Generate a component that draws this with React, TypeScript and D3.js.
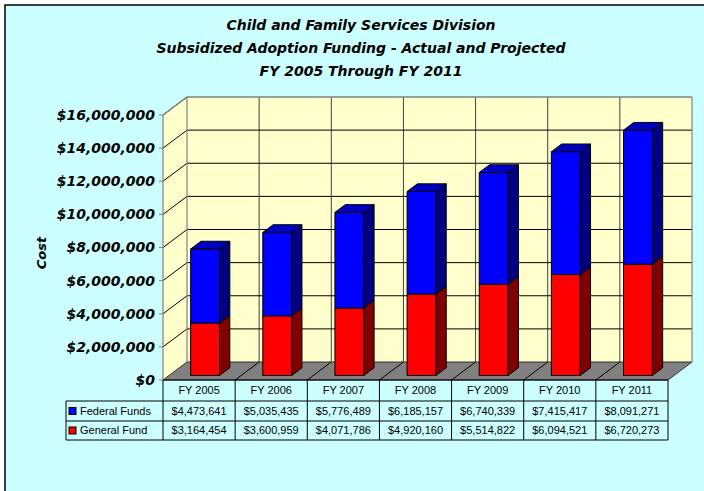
import React from "react";
import * as d3 from "d3";

const categories = ["FY 2005", "FY 2006", "FY 2007", "FY 2008", "FY 2009", "FY 2010", "FY 2011"];
const federalFunds = [4473641, 5035435, 5776489, 6185157, 6740339, 7415417, 8091271];
const generalFund = [3164454, 3600959, 4071786, 4920160, 5514822, 6094521, 6720273];
const yTicks = [0, 2000000, 4000000, 6000000, 8000000, 10000000, 12000000, 14000000, 16000000];
const titleLines = [
  "Child and Family Services Division",
  "Subsidized Adoption Funding - Actual and Projected",
  "FY 2005 Through FY 2011",
];
const seriesNames = ["Federal Funds", "General Fund"];

const W = 704;
const H = 491;
const X0 = 163;
const X1 = 668;
const YB = 380;
const YT = 115;
const DX = 24;
const DY = -18;
const F0 = 0.25;
const DEPTH = 0.43;
const BAR_FRAC = 0.4;

const comic = "'DejaVu Sans', sans-serif";
const arial = "'Liberation Sans', Arial, sans-serif";

export default function App() {
  const x = d3.scaleBand<string>().domain(categories).range([X0, X1]).padding(0);
  const y = d3.scaleLinear().domain([0, 16000000]).range([YB, YT]);
  const bw = x.bandwidth();
  const fmt = d3.format("$,");

  const bdx = DX * DEPTH;
  const bdy = DY * DEPTH;

  const box = (key: string, xl: number, w: number, yTop: number, yBot: number, front: string, side: string, top: string) => {
    const xr = xl + w;
    const pts = (a: number[][]) => a.map((p) => p.join(",")).join(" ");
    return (
      <g key={key} stroke="#000" strokeWidth={1} strokeLinejoin="round">
        <polygon points={pts([[xr, yBot], [xr + bdx, yBot + bdy], [xr + bdx, yTop + bdy], [xr, yTop]])} fill={side} />
        <polygon points={pts([[xl, yTop], [xr, yTop], [xr + bdx, yTop + bdy], [xl + bdx, yTop + bdy]])} fill={top} />
        <rect x={xl} y={yTop} width={w} height={yBot - yTop} fill={front} />
      </g>
    );
  };

  const rowTop = [380, 401, 421, 440];
  const legendLeft = 66;

  return (
    <svg width={W} height={H} style={{ position: "absolute", left: 0, top: 0 }} xmlns="http://www.w3.org/2000/svg">
      <rect x={0} y={0} width={W} height={H} fill="#fff" />
      <rect x={5} y={5} width={W + 10} height={H + 10} fill="#CCFFFF" stroke="#000" strokeWidth={1.5} />

      {/* Title */}
      <g fontFamily={comic} fontWeight="bold" fontStyle="italic" fontSize={14} textAnchor="middle" fill="#000">
        {titleLines.map((t, i) => (
          <text key={i} x={361} y={30 + i * 23}>{t}</text>
        ))}
      </g>

      {/* Walls */}
      <polygon points={`${X0},${YT} ${X0 + DX},${YT + DY} ${X0 + DX},${YB + DY} ${X0},${YB}`} fill="#FFFFCC" />
      <rect x={X0 + DX} y={YT + DY} width={X1 - X0} height={YB - YT} fill="#FFFFCC" />
      {/* floor */}
      <polygon points={`${X0},${YB} ${X1},${YB} ${X1 + DX},${YB + DY} ${X0 + DX},${YB + DY}`} fill="#808080" stroke="#333" strokeWidth={1} />

      {/* vertical gridlines on back wall */}
      {categories.slice(1).map((c) => (
        <line key={"vg" + c} x1={(x(c) as number) + DX} x2={(x(c) as number) + DX} y1={YT + DY} y2={YB + DY} stroke="#404040" strokeWidth={1} />
      ))}
      {/* floor diagonals */}
      {categories.slice(1).map((c) => (
        <line key={"fd" + c} x1={x(c) as number} x2={(x(c) as number) + DX} y1={YB} y2={YB + DY} stroke="#000" strokeWidth={1} />
      ))}
      {/* horizontal gridlines */}
      {yTicks.slice(1).map((t) => (
        <g key={"hg" + t}>
          <line x1={X0} y1={y(t)} x2={X0 + DX} y2={y(t) + DY} stroke="#000" strokeWidth={1} />
          <line x1={X0 + DX} y1={y(t) + DY} x2={X1 + DX} y2={y(t) + DY} stroke={t === 16000000 ? "#808080" : "#000"} strokeWidth={1} />
        </g>
      ))}
      {/* wall edges */}
      <g stroke="#808080" strokeWidth={1.2} fill="none">
        <line x1={X0 + DX} y1={YT + DY} x2={X0 + DX} y2={YB + DY} />
        <line x1={X0} y1={YT} x2={X0 + DX} y2={YT + DY} />
        <line x1={X0 + DX} y1={YT + DY} x2={X1 + DX} y2={YT + DY} />
        <line x1={X1 + DX} y1={YT + DY} x2={X1 + DX} y2={YB + DY} />
        <line x1={X0} y1={YT} x2={X0} y2={YB} />
      </g>
      {/* ticks */}
      {yTicks.map((t) => (
        <line key={"tk" + t} x1={X0 - 4} x2={X0} y1={y(t)} y2={y(t)} stroke="#808080" strokeWidth={1} />
      ))}

      {/* Bars */}
      {categories.map((c, i) => {
        const xl = (x(c) as number) + (bw * (1 - BAR_FRAC)) / 2 + DX * F0;
        const w = bw * BAR_FRAC;
        const off = DY * F0;
        const g = generalFund[i];
        const f = federalFunds[i];
        return (
          <g key={"bar" + c}>
            {box("r", xl, w, y(g) + off, y(0) + off, "#FF0000", "#800000", "#C00000")}
            {box("b", xl, w, y(g + f) + off, y(g) + off, "#0000FF", "#000080", "#0000C0")}
          </g>
        );
      })}

      {/* Y axis labels */}
      <g fontFamily={comic} fontWeight="bold" fontStyle="italic" fontSize={14} textAnchor="end" fill="#000">
        {yTicks.map((t) => (
          <text key={"yl" + t} x={155} y={y(t)} dy="0.35em">{fmt(t)}</text>
        ))}
      </g>
      <text
        transform="translate(46,253) rotate(-90)"
        textAnchor="middle"
        fontFamily={comic}
        fontWeight="bold"
        fontStyle="italic"
        fontSize={13}
      >
        Cost
      </text>

      {/* Data table */}
      <g stroke="#000" strokeWidth={1} fill="none">
        <line x1={X0} y1={rowTop[0]} x2={X1} y2={rowTop[0]} />
        {rowTop.slice(1).map((r) => (
          <line key={"hr" + r} x1={legendLeft} y1={r} x2={X1} y2={r} />
        ))}
        <line x1={legendLeft} y1={rowTop[1]} x2={legendLeft} y2={rowTop[3]} />
        {categories.map((c) => (
          <line key={"cl" + c} x1={x(c) as number} y1={rowTop[0]} x2={x(c) as number} y2={rowTop[3]} />
        ))}
        <line x1={X1} y1={rowTop[0]} x2={X1} y2={rowTop[3]} />
      </g>
      <g fontFamily={arial} fontSize={11} fill="#000">
        {categories.map((c) => (
          <text key={"hc" + c} x={(x(c) as number) + bw / 2} y={(rowTop[0] + rowTop[1]) / 2} dy="0.35em" textAnchor="middle">{c}</text>
        ))}
        {[federalFunds, generalFund].map((arr, r) =>
          arr.map((v, i) => (
            <text key={"v" + r + i} x={(x(categories[i]) as number) + bw / 2} y={(rowTop[r + 1] + rowTop[r + 2]) / 2} dy="0.35em" textAnchor="middle">{fmt(v)}</text>
          ))
        )}
        {seriesNames.map((s, r) => (
          <g key={"lg" + s}>
            <rect x={69} y={(rowTop[r + 1] + rowTop[r + 2]) / 2 - 3.5} width={7} height={7} fill={r === 0 ? "#0000FF" : "#FF0000"} stroke="#000" strokeWidth={1} />
            <text x={80} y={(rowTop[r + 1] + rowTop[r + 2]) / 2} dy="0.35em">{s}</text>
          </g>
        ))}
      </g>
    </svg>
  );
}
